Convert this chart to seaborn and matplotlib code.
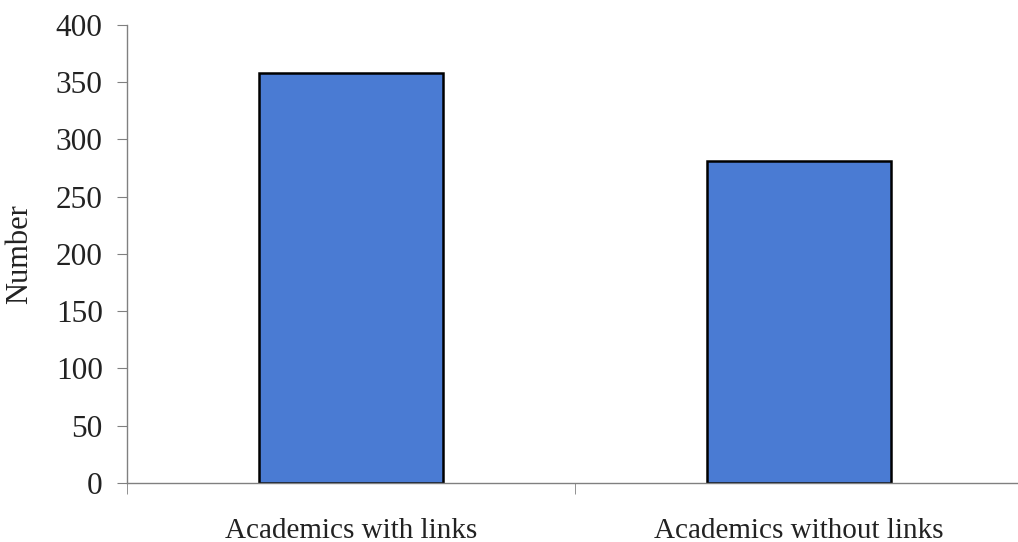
import matplotlib
matplotlib.use("Agg")
import matplotlib.pyplot as plt
import seaborn as sns
import pandas as pd

categories = ["Academics with links", "Academics without links"]
counts = [358, 281]
y_ticks = [0, 50, 100, 150, 200, 250, 300, 350, 400]

sns.set_style("white")
plt.rcParams["font.family"] = ["Liberation Serif", "DejaVu Serif"]

df = pd.DataFrame({"group": categories, "count": counts})

fig = plt.figure(figsize=(10.18, 5.42), dpi=100)
ax = fig.add_axes([0.1248, 0.109, 0.88, 0.845])

sns.barplot(data=df, x="group", y="count", ax=ax, color="#4a7bd3",
            saturation=1, width=0.41, edgecolor="black", linewidth=1.8)

ax.set_xlim(-0.5, 1.5)
ax.set_ylim(0, 400)
ax.set_yticks(y_ticks)
ax.set_xlabel("")
ax.set_ylabel("Number", fontsize=22, labelpad=16, color="#222222")

for side in ("top", "right"):
    ax.spines[side].set_visible(False)
for side in ("left", "bottom"):
    ax.spines[side].set_color("#808080")
    ax.spines[side].set_linewidth(1.0)

ax.tick_params(axis="y", which="major", direction="out", length=7.5,
               color="#808080", labelsize=22.5, labelcolor="#222222", left=True, pad=10)
ax.tick_params(axis="x", which="major", length=0, labelsize=21,
               labelcolor="#222222", pad=25)
ax.set_xticks([-0.5, 0.5, 1.5], minor=True)
ax.tick_params(axis="x", which="minor", direction="out", length=8,
               color="#808080", bottom=True)

fig.savefig("out.png", dpi=100)
